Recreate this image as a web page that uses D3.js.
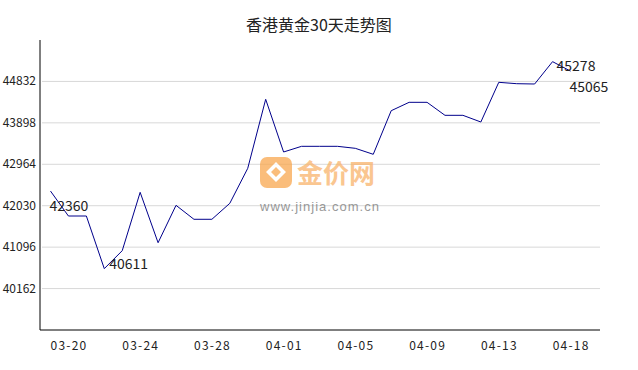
<!DOCTYPE html>
<meta charset="utf-8">
<html>
<style type='text/css'>
  body { margin:0; background:#fff; }
  text { font-family: "Noto Sans CJK SC", "Noto Sans", sans-serif; }
</style>
<script src="https://d3js.org/d3.v7.min.js"></script>
<body>
<svg id="chart" width="638" height="370"></svg>
<script>

// data
var dates = ["03-19","03-20","03-21","03-22","03-23","03-24","03-25","03-26","03-27","03-28",
             "03-29","03-30","03-31","04-01","04-02","04-03","04-04","04-05","04-06","04-07",
             "04-08","04-09","04-10","04-11","04-12","04-13","04-15","04-16","04-17","04-18"];
var prices = [42360, 41798, 41798, 40611, 41016, 42332, 41196, 42039, 41724, 41724,
              42084, 42873, 44429, 43241, 43369, 43369, 43369, 43324, 43189, 44172,
              44361, 44361, 44068, 44068, 43917, 44812, 44781, 44774, 45278, 45065];
var tickLabels = ["03-20","03-24","03-28","04-01","04-05","04-09","04-13","04-18"];
var yTicks = [40162, 41096, 42030, 42964, 43898, 44832];
var yDomain = [39228, 45766];
// labelled points: index, dx, dy
var marks = [[0, -1, 20], [3, 5, 0], [28, 4, 9], [29, -1, 21]];

var svg = d3.select("#chart");
var plotL = 40, plotR = 600, plotT = 40, plotB = 330;

var x = d3.scalePoint().domain(dates).range([50.5, 570.5]);
var y = d3.scaleLinear().domain(yDomain).range([plotB, plotT]);

// title
svg.append("text")
  .attr("x", 319).attr("y", 31)
  .attr("text-anchor", "middle")
  .style("font-size", "16px")
  .style("fill", "#222")
  .text("香港黄金30天走势图");

// grid
svg.append("g").selectAll("line")
  .data(yTicks).enter().append("line")
  .attr("x1", plotL + 2).attr("x2", plotR)
  .attr("y1", d => y(d)).attr("y2", d => y(d))
  .attr("stroke", "#d8d8d8");

// y labels
svg.append("g").selectAll("text")
  .data(yTicks).enter().append("text")
  .attr("x", plotL - 4).attr("y", d => y(d) + 4)
  .attr("text-anchor", "end")
  .style("font-size", "12px")
  .style("fill", "#222")
  .text(d => d);

// x labels
svg.append("g").selectAll("text")
  .data(tickLabels).enter().append("text")
  .attr("x", d => x(d) + 0.6).attr("y", plotB + 20)
  .attr("text-anchor", "middle")
  .style("font-size", "12px")
  .style("letter-spacing", "1.2px")
  .style("fill", "#222")
  .text(d => d);

// watermark
var wm = svg.append("g").attr("opacity", 0.75);
wm.append("rect")
  .attr("x", 260).attr("y", 157).attr("width", 32).attr("height", 31).attr("rx", 7)
  .attr("fill", "#f9a84f");
wm.append("path")
  .attr("d", "M266,172 L276,162 L286,172 L276,182 Z M271,172 L276,167 L281,172 L276,177 Z")
  .attr("fill", "#fff").attr("fill-rule", "evenodd");
wm.append("text")
  .attr("x", 297).attr("y", 183)
  .style("font-size", "26px").style("font-weight", "bold")
  .style("fill", "#f9b36b")
  .text("金价网");
wm.append("text")
  .attr("x", 260).attr("y", 211)
  .attr("textLength", 119)
  .style("font-size", "13px")
  .style("font-family", "Arial, 'Liberation Sans', sans-serif")
  .style("fill", "#777")
  .text("www.jinjia.com.cn");

// axes lines
svg.append("line")
  .attr("x1", plotL).attr("x2", plotL).attr("y1", plotT).attr("y2", plotB)
  .attr("stroke", "#000");
svg.append("line")
  .attr("x1", plotL).attr("x2", plotR).attr("y1", plotB).attr("y2", plotB)
  .attr("stroke", "#000");

// price line
var line = d3.line()
  .x((d, i) => x(dates[i]))
  .y(d => y(d));
svg.append("path")
  .datum(prices)
  .attr("d", line)
  .attr("fill", "none")
  .attr("stroke", "#00008b")
  .attr("stroke-width", 1);

// value labels
svg.append("g").selectAll("text")
  .data(marks).enter().append("text")
  .attr("x", d => x(dates[d[0]]) + d[1])
  .attr("y", d => y(prices[d[0]]) + d[2])
  .style("font-size", "14px")
  .style("fill", "#222")
  .text(d => prices[d[0]]);

</script>
</body>
</html>
